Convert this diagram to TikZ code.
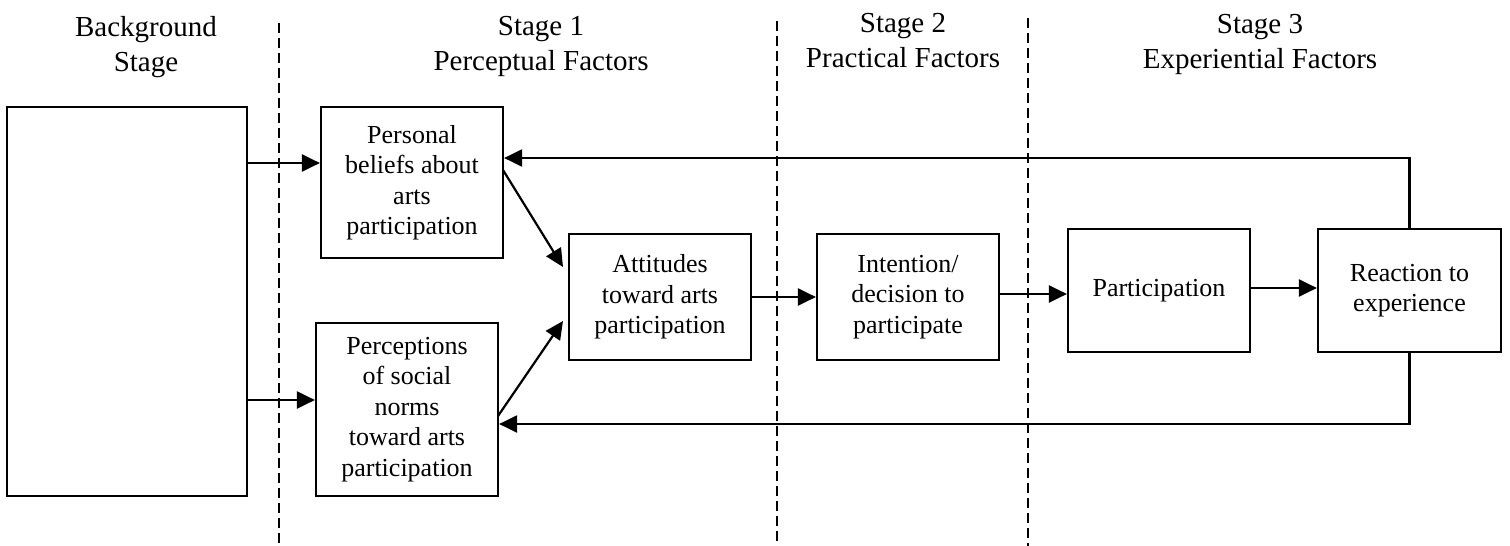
\documentclass[tikz,border=0pt]{standalone}
\usepackage{fontspec}
\setmainfont{Liberation Serif}
\usetikzlibrary{arrows.meta}
\begin{document}
\begin{tikzpicture}[x=1pt,y=-1pt,
  box/.style={draw,line width=2.2pt,align=center,inner sep=0pt,font=\fontsize{26}{30.5}\selectfont},
  head/.style={align=center,inner sep=0pt,font=\fontsize{29}{35}\selectfont},
  arr/.style={line width=2.2pt,-{Triangle[length=18pt,width=17pt]}},
  sep/.style={line width=1.8pt,dash pattern=on 10pt off 5pt}]
\useasboundingbox (0,0) rectangle (1510,546);

% stage separators
\draw[sep] (279,23) -- (279,546);
\draw[sep] (777,21) -- (777,546);
\draw[sep] (1028,18) -- (1028,546);

% headings
\node[head] (h0) at (146,47) {Background\\Stage};
\node[head] (h1) at (541,46) {Stage 1\\Perceptual Factors};
\node[head] (h2) at (903,41) {Stage 2\\Practical Factors};
\node[head] (h3) at (1260,44) {Stage 3\\Experiential Factors};

% boxes
\node[box,minimum width=240pt,minimum height=389pt] (bg) at (127,301.5) {};
\node[box,minimum width=182pt,minimum height=151pt] (pers) at (412,182.5) {Personal\\beliefs about\\arts\\participation};
\node[box,minimum width=182pt,minimum height=173pt] (perc) at (407,409.5) {Perceptions\\of social\\norms\\toward arts\\participation};
\node[box,minimum width=182pt,minimum height=126pt] (att) at (660,297) {Attitudes\\toward arts\\participation};
\node[box,minimum width=182pt,minimum height=126pt] (int) at (908,297) {Intention/\\decision to\\participate};
\node[box,minimum width=182pt,minimum height=123pt] (part) at (1159,290.5) {Participation};
\node[box,minimum width=183pt,minimum height=123pt] (reac) at (1409.5,290.5) {Reaction to\\experience};

% connector end points
\coordinate (pa0) at (503,170);
\coordinate (pa1) at (563,267);
\coordinate (qa0) at (498,416);
\coordinate (qa1) at (563,321);

% connectors
\draw[arr] (bg.east |- 0,163) -- (pers.west |- 0,163);
\draw[arr] (bg.east |- 0,400) -- (perc.west |- 0,400);
\draw[arr] (pa0) -- (pa1);
\draw[arr] (qa0) -- (qa1);
\draw[arr] (att.east) -- (int.west);
\draw[arr] (int.east |- 0,294) -- (part.west |- 0,294);
\draw[arr] (part.east |- 0,288) -- (reac.west |- 0,288);
\draw[arr] (reac.north) |- (pers.east |- 0,158);
\draw[arr] (reac.south) |- (perc.east |- 0,424);
\end{tikzpicture}
\end{document}
